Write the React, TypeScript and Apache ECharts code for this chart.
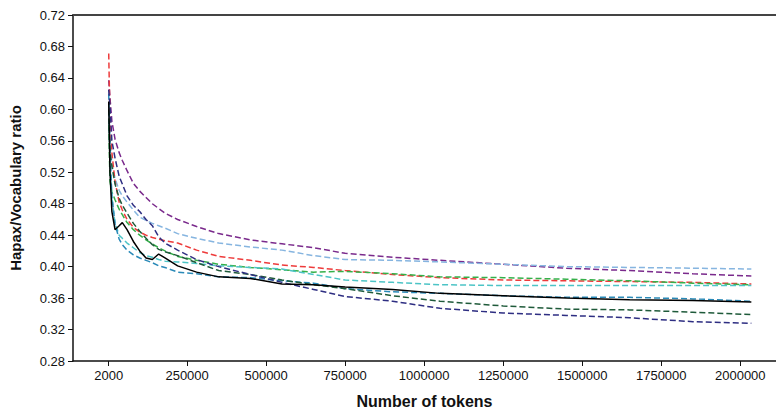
import React, { useEffect, useRef } from "react";
import * as echarts from "echarts";

const tokens = [2000, 6000, 12000, 22000, 35000, 45000, 60000, 80000, 100000, 120000, 140000, 160000, 180000, 220000, 280000, 350000, 450000, 550000, 650000, 750000, 900000, 1050000, 1250000, 1450000, 1650000, 1850000, 2035000];

const purple = [0.637, 0.615, 0.585, 0.562, 0.545, 0.535, 0.522, 0.506, 0.496, 0.488, 0.480, 0.474, 0.468, 0.460, 0.451, 0.442, 0.434, 0.429, 0.424, 0.417, 0.412, 0.408, 0.403, 0.398, 0.395, 0.391, 0.388];
const lightBlue = [0.600, 0.560, 0.530, 0.512, 0.497, 0.490, 0.482, 0.472, 0.463, 0.459, 0.455, 0.452, 0.449, 0.442, 0.436, 0.430, 0.425, 0.421, 0.414, 0.409, 0.408, 0.406, 0.403, 0.400, 0.399, 0.398, 0.397];
const red = [0.671, 0.590, 0.545, 0.508, 0.482, 0.472, 0.460, 0.450, 0.444, 0.440, 0.437, 0.435, 0.433, 0.430, 0.421, 0.413, 0.408, 0.402, 0.399, 0.395, 0.390, 0.386, 0.383, 0.382, 0.381, 0.380, 0.378];
const green = [0.580, 0.508, 0.495, 0.485, 0.473, 0.466, 0.456, 0.447, 0.440, 0.434, 0.429, 0.424, 0.420, 0.413, 0.408, 0.403, 0.399, 0.396, 0.393, 0.394, 0.391, 0.387, 0.386, 0.384, 0.382, 0.379, 0.377];
const cyan = [0.600, 0.530, 0.487, 0.455, 0.440, 0.436, 0.430, 0.424, 0.418, 0.414, 0.412, 0.409, 0.407, 0.406, 0.404, 0.401, 0.399, 0.397, 0.390, 0.383, 0.380, 0.377, 0.376, 0.376, 0.376, 0.376, 0.376];
const steelBlue = [0.620, 0.550, 0.490, 0.454, 0.435, 0.428, 0.421, 0.415, 0.411, 0.408, 0.405, 0.401, 0.399, 0.393, 0.391, 0.387, 0.386, 0.382, 0.379, 0.372, 0.368, 0.366, 0.363, 0.361, 0.361, 0.359, 0.356];
const black = [0.610, 0.520, 0.470, 0.447, 0.452, 0.456, 0.447, 0.432, 0.420, 0.411, 0.409, 0.416, 0.411, 0.401, 0.393, 0.387, 0.385, 0.378, 0.377, 0.374, 0.371, 0.366, 0.363, 0.360, 0.358, 0.357, 0.355];
const darkGreen = [0.600, 0.545, 0.528, 0.505, 0.487, 0.478, 0.468, 0.455, 0.445, 0.436, 0.428, 0.422, 0.419, 0.414, 0.405, 0.395, 0.390, 0.383, 0.377, 0.372, 0.363, 0.356, 0.350, 0.346, 0.345, 0.342, 0.339];
const navy = [0.625, 0.605, 0.560, 0.538, 0.515, 0.505, 0.490, 0.478, 0.470, 0.460, 0.452, 0.438, 0.430, 0.421, 0.409, 0.400, 0.390, 0.380, 0.371, 0.362, 0.356, 0.347, 0.341, 0.338, 0.335, 0.330, 0.328];

const xTickValues = [2000, 250000, 500000, 750000, 1000000, 1250000, 1500000, 1750000, 2000000];

const seriesDefs = [
  { name: "purple", data: purple, color: "#7a2a8c", dashed: true },
  { name: "lightBlue", data: lightBlue, color: "#86b5e0", dashed: true },
  { name: "red", data: red, color: "#ee3b3b", dashed: true },
  { name: "green", data: green, color: "#35b04a", dashed: true },
  { name: "cyan", data: cyan, color: "#4cc4c6", dashed: true },
  { name: "steelBlue", data: steelBlue, color: "#2a8ab8", dashed: true },
  { name: "darkGreen", data: darkGreen, color: "#1f5a3a", dashed: true },
  { name: "navy", data: navy, color: "#2e2e82", dashed: true },
  { name: "black", data: black, color: "#000000", dashed: false },
];

const X_MIN = -111000;
const X_MAX = 2113000;

export default function App() {
  const ref = useRef<HTMLDivElement>(null);
  useEffect(() => {
    if (!ref.current) return;
    const chart = echarts.init(ref.current, null, { renderer: "svg" });
    const font = "'Liberation Sans', Arial, sans-serif";
    chart.setOption({
      animation: false,
      backgroundColor: "#ffffff",
      grid: {
        left: 71,
        top: 15,
        bottom: 50,
        right: 0,
        show: false,
      },
      xAxis: [
        {
          type: "value",
          min: X_MIN,
          max: X_MAX,
          name: "Number of tokens",
          nameLocation: "middle",
          nameGap: 32,
          nameTextStyle: { fontFamily: font, fontSize: 16, fontWeight: "bold", color: "#111" },
          splitLine: { show: false },
          axisLine: { show: true, onZero: false, lineStyle: { color: "#111", width: 1.5 } },
          axisTick: { show: true, customValues: xTickValues, length: 5, lineStyle: { color: "#111" } },
          axisLabel: {
            customValues: xTickValues,
            margin: 8,
            fontFamily: font,
            fontSize: 13,
            color: "#111",
            formatter: (v: number) => String(v),
          },
        },
        {
          type: "value",
          position: "top",
          min: X_MIN,
          max: X_MAX,
          splitLine: { show: false },
          axisLine: { show: true, onZero: false, lineStyle: { color: "#444", width: 2 } },
          axisTick: { show: false },
          axisLabel: { show: false },
        },
      ],
      yAxis: {
        type: "value",
        min: 0.28,
        max: 0.72,
        interval: 0.04,
        name: "Hapax/Vocabulary ratio",
        nameLocation: "middle",
        nameGap: 50,
        nameTextStyle: { fontFamily: font, fontSize: 15, fontWeight: "bold", color: "#111" },
        splitLine: { show: false },
        axisLine: { show: true, onZero: false, lineStyle: { color: "#111", width: 1.5 } },
        axisTick: { show: true, length: 5, lineStyle: { color: "#111" } },
        axisLabel: {
          margin: 8,
          fontFamily: font,
          fontSize: 13,
          color: "#111",
          formatter: (v: number) => v.toFixed(2),
        },
      },
      series: seriesDefs.map((s) => ({
        name: s.name,
        type: "line",
        xAxisIndex: 0,
        showSymbol: false,
        symbol: "none",
        data: tokens.map((t, i) => [t, s.data[i]]),
        lineStyle: {
          color: s.color,
          width: s.dashed ? 1.5 : 1.5,
          type: s.dashed ? [6, 3] : "solid",
        },
        z: s.dashed ? 2 : 3,
      })),
    });
    return () => chart.dispose();
  }, []);
  return (
    <div
      ref={ref}
      style={{ position: "fixed", left: 0, top: 0, width: 776, height: 414, background: "#fff" }}
    />
  );
}
